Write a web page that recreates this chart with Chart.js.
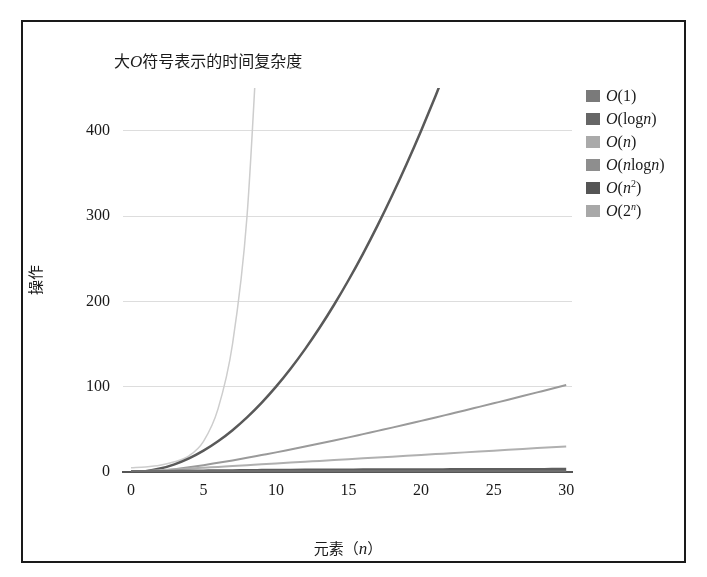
<!DOCTYPE html>
<html>
<head>
<meta charset="utf-8">
<script src="https://cdn.jsdelivr.net/npm/chart.js@4/dist/chart.umd.min.js"></script>
<style>
  html, body { margin: 0; padding: 0; background: #fff; }
  #wrap { position: relative; width: 707px; height: 577px; overflow: hidden; }
  #frame { position: absolute; left: 21px; top: 20px; width: 665px; height: 543px;
           box-sizing: border-box; border: 2px solid #1a1a1a; }
  #chart { position: absolute; left: 0; top: 0; }
  #title { position: absolute; left: 114px; top: 49px; font: 16px 'Noto Sans CJK SC';
           color: #1a1a1a; line-height: 22px; white-space: nowrap; }
  #title i, #xtitle i { font-family: 'Liberation Serif'; font-size: 17px; }
  #xtitle { position: absolute; left: 248px; width: 200px; top: 538px; text-align: center;
            font: 15px 'Noto Sans CJK SC'; color: #1a1a1a; line-height: 20px; white-space: nowrap; }
  #legend { position: absolute; left: 586px; top: 84px; font: 16px 'Liberation Serif'; color: #1a1a1a; }
  #legend .row { display: flex; align-items: center; height: 23px; white-space: nowrap; }
  #legend .sw { width: 14px; height: 12px; margin-right: 6px; }
  #legend sup { font-size: 10px; line-height: 0; vertical-align: 6px; }
</style>
</head>
<body>
<div id="wrap">
  <div id="frame"></div>
  <canvas id="chart" width="707" height="577"></canvas>
  <div id="title">大<i>O</i>符号表示的时间复杂度</div>
  <div id="xtitle">元素（<i>n</i>）</div>
  <div id="legend"></div>
</div>
<script>
// Input size n
const nValues = [0, 1, 2, 3, 4, 5, 6, 7, 8, 9, 10, 11, 12, 13, 14, 15,
                 16, 17, 18, 19, 20, 21, 22, 23, 24, 25, 26, 27, 28, 29, 30];

const seriesLabels = ['O(1)', 'O(logn)', 'O(n)', 'O(nlogn)', 'O(n²)', 'O(2ⁿ)'];

// Operation counts per growth class
const constOps  = [1, 1, 1, 1, 1, 1, 1, 1, 1, 1, 1, 1, 1, 1, 1, 1,
                   1, 1, 1, 1, 1, 1, 1, 1, 1, 1, 1, 1, 1, 1, 1];
const logOps    = [0, 0, 0.7, 1.1, 1.4, 1.6, 1.8, 1.9, 2.1, 2.2, 2.3, 2.4, 2.5, 2.6, 2.6, 2.7,
                   2.8, 2.8, 2.9, 2.9, 3.0, 3.0, 3.1, 3.1, 3.2, 3.2, 3.3, 3.3, 3.3, 3.4, 3.4];
const linearOps = [0, 1, 2, 3, 4, 5, 6, 7, 8, 9, 10, 11, 12, 13, 14, 15,
                   16, 17, 18, 19, 20, 21, 22, 23, 24, 25, 26, 27, 28, 29, 30];
const nlognOps  = [0, 0, 1.4, 3.3, 5.5, 8.0, 10.8, 13.6, 16.6, 19.8, 23.0, 26.4, 29.8, 33.3, 36.9, 40.6,
                   44.4, 48.2, 52.0, 55.9, 59.9, 63.9, 68.0, 72.1, 76.3, 80.5, 84.7, 89.0, 93.3, 97.6, 102.0];
const squareOps = [0, 1, 4, 9, 16, 25, 36, 49, 64, 81, 100, 121, 144, 169, 196, 225,
                   256, 289, 324, 361, 400, 441, 484];
const expOps    = [5, 6, 8, 12, 19, 36, 74, 150, 300, 600];

const xTickValues = [0, 5, 10, 15, 20, 25, 30];
const yTickValues = [0, 100, 200, 300, 400];

// Styling
const lineColors   = ['#6e6e6e', '#5e5e5e', '#b0b0b0', '#9a9a9a', '#595959', '#cdcdcd'];
const swatchColors = ['#7a7a7a', '#666666', '#aaaaaa', '#8e8e8e', '#555555', '#a8a8a8'];
const lineWidths   = [2.5, 2.5, 2, 2, 2.5, 1.5];

const seriesValues = [constOps, logOps, linearOps, nlognOps, squareOps, expOps];

const toPoints = vals => vals.map((v, i) => ({ x: nValues[i], y: v }));

const datasets = seriesValues.map((vals, k) => ({
  label: seriesLabels[k],
  data: toPoints(vals),
  borderColor: lineColors[k],
  backgroundColor: swatchColors[k],
  borderWidth: lineWidths[k],
  pointRadius: 0,
  fill: false,
  cubicInterpolationMode: 'monotone'
}));

const serif = "'Liberation Serif', 'Noto Sans CJK SC'";

const chart = new Chart(document.getElementById('chart'), {
  type: 'line',
  data: { datasets },
  options: {
    responsive: false,
    animation: false,
    layout: { padding: { top: 88, right: 135, left: 0, bottom: 0 } },
    plugins: {
      legend: { display: false },
      title: { display: false },
      tooltip: { enabled: false }
    },
    scales: {
      x: {
        type: 'linear',
        min: -0.55,
        max: 30.4,
        afterFit(scale) { scale.height = 105; },
        afterBuildTicks(scale) { scale.ticks = xTickValues.map(v => ({ value: v })); },
        grid: { display: false, drawTicks: false },
        border: { display: true, color: '#555', width: 2 },
        ticks: { padding: 9, maxRotation: 0, color: '#1a1a1a', font: { family: serif, size: 16 } },
        title: { display: false }
      },
      y: {
        min: 0,
        max: 450,
        afterFit(scale) { scale.width = 123; },
        afterBuildTicks(scale) { scale.ticks = yTickValues.map(v => ({ value: v })); },
        grid: { color: '#dddddd', lineWidth: 1, drawTicks: false },
        border: { display: false },
        ticks: { padding: 13, color: '#1a1a1a', font: { family: serif, size: 16 } },
        title: {
          display: true, text: '操作', color: '#1a1a1a',
          font: { family: serif, size: 15 },
          padding: { top: 28, bottom: 0 }
        }
      }
    }
  }
});

// Legend with italic variables and superscripts
function legendMarkup(label) {
  return label.replace(/[Onⁿ²]/g, c => {
    if (c === 'O' || c === 'n') return '<i>' + c + '</i>';
    if (c === 'ⁿ') return '<sup><i>n</i></sup>';
    return '<sup>2</sup>';
  });
}
const legendEl = document.getElementById('legend');
chart.data.datasets.forEach(ds => {
  const row = document.createElement('div');
  row.className = 'row';
  const sw = document.createElement('span');
  sw.className = 'sw';
  sw.style.background = ds.backgroundColor;
  const txt = document.createElement('span');
  txt.innerHTML = legendMarkup(ds.label);
  row.appendChild(sw);
  row.appendChild(txt);
  legendEl.appendChild(row);
});
</script>
</body>
</html>
